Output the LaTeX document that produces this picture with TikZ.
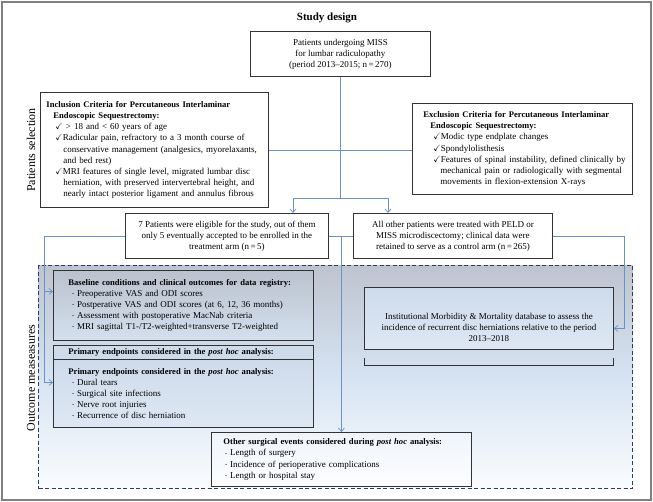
\documentclass[tikz,border=0pt]{standalone}
\usepackage{amssymb}
\usepackage{fontspec}
\setmainfont{Liberation Serif}
\usepackage{xcolor}
\usepackage{tikz}
\usetikzlibrary{positioning, arrows.meta, calc}

\definecolor{linkblue}{RGB}{104,146,200}
\definecolor{framegray}{RGB}{128,128,128}
\definecolor{dashnavy}{RGB}{40,62,98}
\definecolor{regtop}{RGB}{190,196,207}
\definecolor{regmid}{RGB}{214,227,242}
\definecolor{regbot}{RGB}{250,252,254}
\definecolor{basetop}{RGB}{186,194,206}
\definecolor{basebot}{RGB}{212,224,238}
\definecolor{primtop}{RGB}{206,219,235}
\definecolor{primbot}{RGB}{222,232,244}
\definecolor{othtop}{RGB}{240,245,251}
\definecolor{othbot}{RGB}{252,253,255}
\newcommand{\chk}{$\checkmark$}
\newcommand{\bul}{\raisebox{0.8pt}{\scalebox{0.5}{\textbullet}}\hspace{3pt}}
\newcommand{\hd}[1]{{\fontsize{8.6}{11.1}\selectfont\bfseries #1}}

\begin{document}
\begin{tikzpicture}[
    x=1pt, y=-1pt,
    >={Straight Barb[length=3.5pt, width=6pt]},
    box/.style={rectangle, draw=black!80, line width=0.9pt, anchor=north west,
                inner ysep=0pt, fill=white, font=\fontsize{9}{11.1}\selectfont},
    cbox/.style={box, align=center},
    lbox/.style={box, align=left, inner xsep=2pt},
    link/.style={draw=linkblue, line width=0.7pt},
    arrow/.style={link, ->},
    slabel/.style={rotate=90, font=\fontsize{12}{13}\selectfont},
]
\useasboundingbox (0,0) rectangle (653,502);
\draw[framegray, line width=1.6pt] (2,2) rectangle (651,500);

% === title and side labels ===
\node[font=\fontsize{11}{12}\selectfont\bfseries] (title) at (327,18) {Study design};
\node[slabel] (lsel) at (31,150) {Patients selection};
\node[slabel] (lout) at (31,378) {Outcome measeasures};

% === outcome region ===
\node[rectangle, anchor=north west, minimum width=594pt, minimum height=223pt,
      top color=regtop, bottom color=regbot, middle color=regmid,
      draw=dashnavy, line width=1.1pt, dash pattern=on 4pt off 2.5pt] (region) at (38,265) {};

% === patients selection ===
\node[cbox, minimum width=180pt, minimum height=45pt] (top) at (250,31)
    {Patients undergoing MISS\\for lumbar radiculopathy\\(period 2013--2015; n\,=\,270)};

\node[lbox, text width=224pt, minimum height=115pt] (incl) at (40,92) {%
  \hspace*{4pt}\hd{Inclusion Criteria for Percutaneous Interlaminar}\\
  \hspace*{11pt}\hd{Endoscopic Sequestrectomy:}\\
  \hspace*{13pt}\chk{} > 18 and < 60 years of age\\
  \hspace*{13pt}\chk Radicular pain, refractory to a 3 month course of\\
  \hspace*{21pt}conservative management (analgesics, myorelaxants,\\
  \hspace*{21pt}and bed rest)\\
  \hspace*{13pt}\chk MRI features of single level, migrated lumbar disc\\
  \hspace*{21pt}herniation, with preserved intervertebral height, and\\
  \hspace*{21pt}nearly intact posterior ligament and annulus fibrous};

\node[lbox, text width=216pt, minimum height=91pt] (excl) at (412,103) {%
  \hspace*{9pt}\hd{Exclusion Criteria for Percutaneous Interlaminar}\\
  \hspace*{16pt}\hd{Endoscopic Sequestrectomy:}\\
  \hspace*{19pt}\chk Modic type endplate changes\\
  \hspace*{19pt}\chk Spondylolisthesis\\
  \hspace*{19pt}\chk Features of spinal instability, defined clinically by\\
  \hspace*{26pt}mechanical pain or radiologically with segmental\\
  \hspace*{26pt}movements in flexion-extension X-rays};

\node[cbox, minimum width=203pt, minimum height=45pt] (elig) at (125,213)
    {7 Patients were eligible for the study, out of them\\
     only 5 eventually accepted to be enrolled in the\\
     treatment arm (n\,=\,5)};
\node[cbox, minimum width=199pt, minimum height=45pt] (ctrl) at (353,213)
    {All other patients were treated with PELD or\\
     MISS microdiscectomy; clinical data were\\
     retained to serve as a control arm (n\,=\,265)};

% === outcome measures ===
\node[lbox, text width=256pt, minimum height=70pt,
      top color=basetop, bottom color=basebot] (base) at (53,270) {%
  \hspace*{13pt}\hd{Baseline conditions and clinical outcomes for data registry:}\\
  \hspace*{17pt}\bul Preoperative VAS and ODI scores\\
  \hspace*{17pt}\bul Postperative VAS and ODI scores (at 6, 12, 36 months)\\
  \hspace*{17pt}\bul Assessment with postoperative MacNab criteria\\
  \hspace*{17pt}\bul MRI sagittal T1-/T2-weighted+transverse T2-weighted};
\node[lbox, text width=256pt, minimum height=14pt,
      top color=primtop, bottom color=primtop] (phead) at (53,345)
    {\hspace*{13pt}\hd{Primary endpoints considered in the \textit{post hoc} analysis:}};
\node[lbox, text width=256pt, minimum height=68pt,
      top color=primtop, bottom color=primbot] (prim) at (53,359) {%
  \hspace*{13pt}\hd{Primary endpoints considered in the \textit{post hoc} analysis:}\\
  \hspace*{17pt}\bul Dural tears\\
  \hspace*{17pt}\bul Surgical site infections\\
  \hspace*{17pt}\bul Nerve root injuries\\
  \hspace*{17pt}\bul Recurrence of disc herniation};
\node[cbox, minimum width=249pt, minimum height=62pt,
      top color=primtop, bottom color=primbot] (inst) at (364,287)
    {\rule{0pt}{24pt}Institutional Morbidity \& Mortality database to assess the\\
     incidence of recurrent disc herniations relative to the period\\
     2013--2018};
\draw[black!80, line width=0.9pt] ([yshift=-8pt]inst.south west) -- ++(0,8) -| ([yshift=-8pt]inst.south east);
\node[lbox, text width=256pt, minimum height=54pt,
      top color=othtop, bottom color=othbot] (other) at (211,432) {%
  \hspace*{10pt}\hd{Other surgical events considered during \textit{post hoc} analysis:}\\
  \hspace*{12pt}\bul Length of surgery\\
  \hspace*{12pt}\bul Incidence of perioperative complications\\
  \hspace*{12pt}\bul Length or hospital stay};

% === connectors ===
\coordinate (split) at (top.south |- 0,198);
\coordinate (sl) at (293,198);
\coordinate (sr) at (388,198);
\coordinate (pin) at ([yshift=11pt]prim.west);
\coordinate (bin) at ([yshift=14pt]base.west);
\coordinate (iin) at ([yshift=-10pt]inst.east);

\draw[link] (top.south) -- (split);
\draw[link] (incl.east) -- (excl.west |- incl.east);
\draw[link] (sl) -- (sr);
\draw[arrow] (sl) -- (sl |- elig.north);
\draw[arrow] (sr) -- (sr |- ctrl.north);
\draw[link] (elig.east) -- (ctrl.west);
\draw[arrow] (elig.east -| other.north) -- (other.north);
\draw[arrow] (elig.west) -| ([xshift=-9pt]pin) -- (pin);
\draw[arrow] ([xshift=-9pt]pin |- bin) -- (bin);
\draw[arrow] (ctrl.east) -| ([xshift=10pt]iin) -- (iin);

\end{tikzpicture}
\end{document}
